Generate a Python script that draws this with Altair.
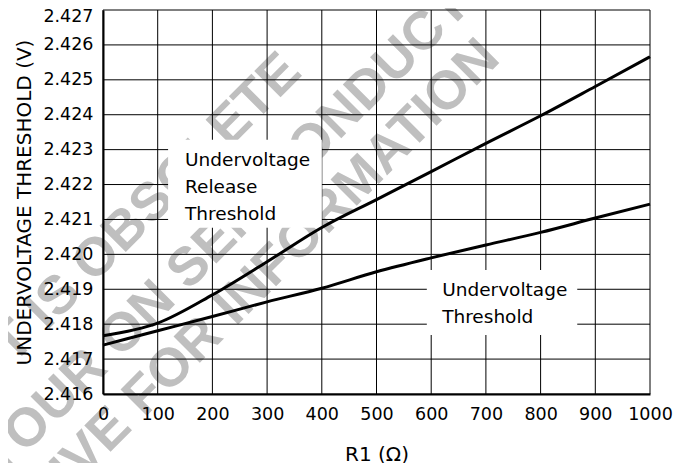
import altair as alt
import pandas as pd

# ---- data ----
r1 = [0, 100, 200, 300, 400, 500, 600, 700, 800, 900, 1000]
release = [2.41767, 2.41803, 2.41884, 2.41979, 2.42077, 2.42157, 2.42237, 2.42318, 2.42397, 2.42481, 2.42566]
threshold = [2.41740, 2.41781, 2.41822, 2.41864, 2.41903, 2.41950, 2.41990, 2.42027, 2.42063, 2.42104, 2.42144]
series_names = ["Undervoltage Release Threshold", "Undervoltage Threshold"]

x_ticks = [0, 100, 200, 300, 400, 500, 600, 700, 800, 900, 1000]
y_ticks = [2.416, 2.417, 2.418, 2.419, 2.420, 2.421, 2.422, 2.423, 2.424, 2.425, 2.426, 2.427]

# annotation labels (position in data units)
label_text = ["Undervoltage\nRelease\nThreshold", "Undervoltage\nThreshold"]
label_x = [150, 620]
label_y = [2.42253, 2.41881]
box_x = [119, 592]
box_x2 = [400, 867]
box_y = [2.42076, 2.41769]
box_y2 = [2.42328, 2.41955]

# watermark lines (centre in data units)
wm_text = ["PRODUCT IS OBSOLETE", "YOUR ON SEMICONDUCTOR", "REPRESENTATIVE FOR INFORMATION"]
wm_x = [-71, 274, 61]
wm_y = [2.41895, 2.42144, 2.41573]

# ---- tables ----
lines_df = pd.DataFrame({
    "r1": r1 * 2,
    "v": release + threshold,
    "series": [series_names[0]] * len(r1) + [series_names[1]] * len(r1),
})
xgrid_df = pd.DataFrame({"x": x_ticks})
ygrid_df = pd.DataFrame({"y": y_ticks})
box_df = pd.DataFrame({"x": box_x, "x2": box_x2, "y": box_y, "y2": box_y2})
lab_df = pd.DataFrame({"t": label_text, "x": label_x, "y": label_y})
wm_df = pd.DataFrame({"t": wm_text, "x": wm_x, "y": wm_y})

xscale = alt.Scale(domain=[0, 1000], nice=False, zero=False)
yscale = alt.Scale(domain=[2.416, 2.427], nice=False, zero=False)

FONT = "DejaVu Sans"

xaxis = alt.Axis(
    values=x_ticks, format="d", title="R1 (Ω)", grid=False, ticks=False, tickSize=0,
    labelPadding=11, titlePadding=22, domainWidth=2, domainColor="black",
    labelFont=FONT, labelFontSize=17.5, labelColor="black",
    titleFont=FONT, titleFontSize=20, titleFontWeight="normal", titleColor="black",
    labelFlush=False, labelOverlap=False, zindex=1,
)
yaxis = alt.Axis(
    values=y_ticks, format=".3f", title="UNDERVOLTAGE THRESHOLD (V)", grid=False,
    ticks=False, tickSize=0, labelPadding=10, titlePadding=8,
    domainWidth=2, domainColor="black",
    labelFont=FONT, labelFontSize=17.5, labelColor="black",
    labelOffset={"condition": {"test": "datum.value > 2.4265", "value": 6}, "value": 0},
    titleFont=FONT, titleFontSize=20, titleFontWeight="normal", titleColor="black",
    labelOverlap=False, labelFlush=False, zindex=1,
)


def X(field):
    return alt.X(field, scale=xscale, axis=xaxis)


def Y(field):
    return alt.Y(field, scale=yscale, axis=yaxis)


watermark = alt.Chart(wm_df).mark_text(
    angle=315, font="Liberation Sans", fontWeight="bold", fontSize=54,
    color="#bfbfbf", align="center", baseline="middle",
).encode(x=X("x:Q"), y=Y("y:Q"), text="t:N")

vgrid = alt.Chart(xgrid_df).mark_rule(color="black", strokeWidth=1).encode(x=X("x:Q"))
hgrid = alt.Chart(ygrid_df).mark_rule(color="black", strokeWidth=1).encode(y=Y("y:Q"))

boxes = alt.Chart(box_df).mark_rect(fill="white").encode(
    x=X("x:Q"), x2="x2:Q", y=Y("y:Q"), y2="y2:Q",
)

curves = alt.Chart(lines_df).mark_line(
    color="black", strokeWidth=3, interpolate="monotone"
).encode(x=X("r1:Q"), y=Y("v:Q"), detail="series:N")

labels = alt.Chart(lab_df).mark_text(
    align="left", baseline="alphabetic", font=FONT, fontSize=18.5,
    lineHeight=27, lineBreak="\n", color="black",
).encode(x=X("x:Q"), y=Y("y:Q"), text="t:N")

chart = alt.layer(watermark, vgrid, hgrid, boxes, curves, labels).properties(
    width=547, height=384,
    autosize=alt.AutoSizeParams(type="none"),
    padding={"left": 95, "top": 2, "right": 26, "bottom": 69},
    background="white",
).configure_view(stroke=None)

chart.save("out.html", embed_options={"renderer": "svg", "actions": False})
